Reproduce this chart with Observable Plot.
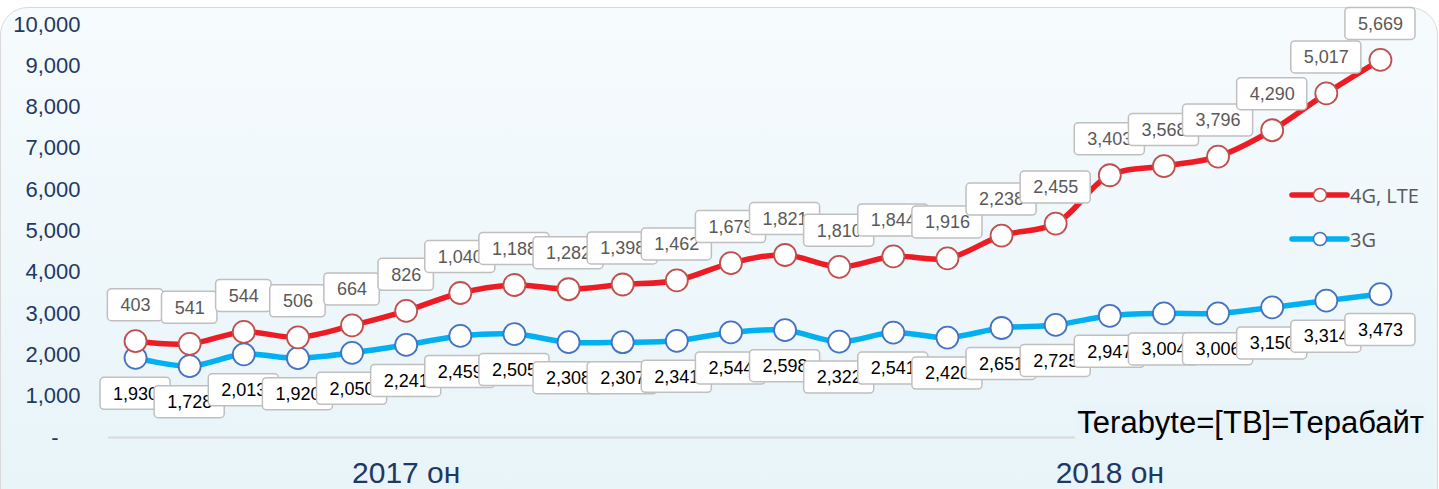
<!DOCTYPE html>
<html>
<head>
<meta charset="utf-8">
<script src="https://cdn.jsdelivr.net/npm/d3@7"></script>
<script src="https://cdn.jsdelivr.net/npm/@observablehq/plot@0.6"></script>
<style>
  html, body { margin: 0; padding: 0; background: #ffffff; overflow: hidden; }
  #frame {
    position: absolute; left: 0; top: 7px; width: 1436px; height: 560px;
    border: 1.5px solid #d9d9d9; border-radius: 28px;
    background: linear-gradient(180deg, #f6fbfd 0%, #e6f3f8 100%);
  }
  #chart { position: absolute; left: 0; top: 0; }
  #legend { position: absolute; left: 1288px; top: 180px; font-family: "Open Sans", sans-serif; font-size: 20px; color: #595959; }
  #unit {
    position: absolute; right: 13px; top: 406px; font-family: "Liberation Sans", Arial, sans-serif;
    font-size: 31px; color: #000; background: #e8f4f9; line-height: 34px; padding: 0 2px;
  }
</style>
</head>
<body>
<div id="frame"></div>
<div id="chart"></div>
<div id="legend"></div>
<div id="unit">Terabyte=[TB]=Терабайт</div>
<script>
// ---- data ----
const months = d3.range(24); // Jan 2017 .. Dec 2018
const series3G = [1930, 1728, 2013, 1920, 2050, 2241, 2459, 2505, 2308, 2307, 2341, 2544,
                  2598, 2322, 2541, 2420, 2651, 2725, 2947, 3004, 3006, 3150, 3314, 3473];
const series4G = [403, 541, 544, 506, 664, 826, 1040, 1188, 1282, 1398, 1462, 1679,
                  1821, 1810, 1844, 1916, 2238, 2455, 3403, 3568, 3796, 4290, 5017, 5669];
const seriesNames = ["4G, LTE", "3G"];
const yearLabels = ["2017 он", "2018 он"];
const yearTickMonth = [5, 18];
const yTicks = d3.range(0, 10001, 1000);

// ---- layout ----
const W = 1439, H = 489;
const mL = 108, mR = 32, mT = 24, mB = 52;
const xDomain = [-0.5, 23.5], yDomain = [0, 10000];
const xPerPx = (xDomain[1] - xDomain[0]) / (W - mL - mR);
const yPerPx = (yDomain[1] - yDomain[0]) / (H - mT - mB);

const fmt = d3.format(",");
const blue = months.map(i => ({i, v: series3G[i], label: fmt(series3G[i])}));
const red = months.map(i => ({i, v: series3G[i] + series4G[i], label: fmt(series4G[i])}));

function labelWidthPx(s) {
  let w = 26;
  for (const c of s) w += (c === ",") ? 4.9 : 9.8;
  return w;
}
const boxH = 32, off = 36;

function labelMarks(rows, dir, textColor) {
  return rows.flatMap(d => {
    const hw = labelWidthPx(d.label) / 2 * xPerPx;
    const cy = d.v + dir * off * yPerPx;
    const hh = boxH / 2 * yPerPx;
    const row = [{...d, x1: d.i - hw, x2: d.i + hw, y1: cy - hh, y2: cy + hh, cy}];
    return [
      Plot.rect(row, {x1: "x1", x2: "x2", y1: "y1", y2: "y2", fill: "#ffffff", stroke: "#bfbfbf", strokeWidth: 1.5, rx: 4}),
      Plot.text(row, {x: "i", y: "cy", text: "label", fill: textColor, fontSize: 18, lineAnchor: "middle", textAnchor: "middle"})
    ];
  });
}

const chart = Plot.plot({
  width: W, height: H,
  marginLeft: mL, marginRight: mR, marginTop: mT, marginBottom: mB,
  style: {background: "transparent", fontFamily: "'Liberation Sans', Arial, sans-serif", overflow: "visible"},
  x: {domain: xDomain, axis: null},
  y: {domain: yDomain, axis: null},
  marks: [
    Plot.axisY({ticks: yTicks, tickSize: 0, tickPadding: 28, fontSize: 22, fill: "#1f3864",
      tickFormat: d => d === 0 ? "-\u2003" : fmt(d)}),
    Plot.axisX({ticks: yearTickMonth, tickSize: 0, tickPadding: 24, fontSize: 30, fill: "#1f3864",
      tickFormat: d => yearLabels[yearTickMonth.indexOf(d)]}),
    Plot.ruleY([0], {stroke: "#d9d9d9", strokeWidth: 2}),
    Plot.line(blue, {x: "i", y: "v", stroke: "#00b0f0", strokeWidth: 5.5, curve: "catmull-rom"}),
    Plot.dot(blue, {x: "i", y: "v", r: 11, fill: "#ffffff", stroke: "#4472c4", strokeWidth: 1.8}),
    Plot.line(red, {x: "i", y: "v", stroke: "#ed1c24", strokeWidth: 5.5, curve: "catmull-rom"}),
    Plot.dot(red, {x: "i", y: "v", r: 11, fill: "#ffffff", stroke: "#c0504d", strokeWidth: 1.8}),
    ...labelMarks(red, 1, "#595959"),
    ...labelMarks(blue, -1, "#000000")
  ]
});
document.getElementById("chart").append(chart);

// legend
const legendColors = [["#ed1c24", "#c0504d"], ["#00b0f0", "#4472c4"]];
const lg = d3.select("#legend");
seriesNames.forEach((name, k) => {
  const row = lg.append("div").style("display", "flex").style("align-items", "center")
    .style("height", "30px").style("margin-bottom", k === 0 ? "14px" : "0");
  const s = row.append("svg").attr("width", 62).attr("height", 30);
  s.append("line").attr("x1", 4).attr("x2", 59).attr("y1", 15).attr("y2", 15)
    .attr("stroke", legendColors[k][0]).attr("stroke-width", 5.5).attr("stroke-linecap", "round");
  s.append("circle").attr("cx", 32).attr("cy", 15).attr("r", 6.5).attr("fill", "#fff")
    .attr("stroke", legendColors[k][1]).attr("stroke-width", 1.5);
  row.append("span").text(name);
});
</script>
</body>
</html>
